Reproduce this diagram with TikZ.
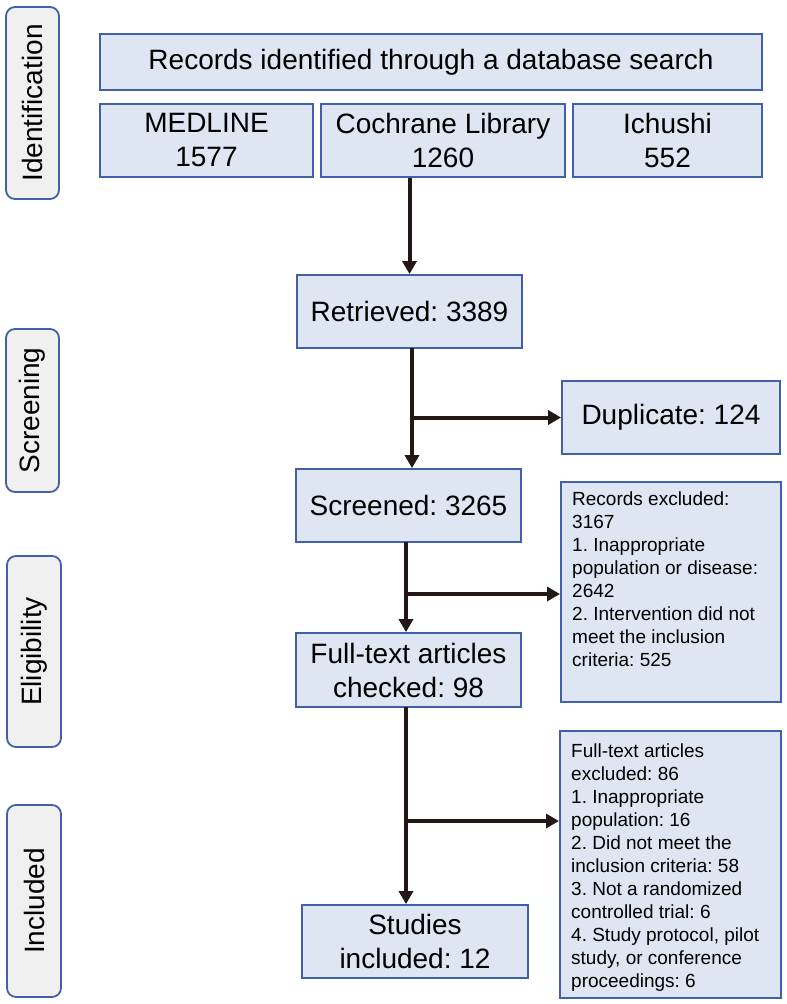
\documentclass[tikz,border=0pt]{standalone}
\usepackage{fontspec}
\setmainfont{Liberation Sans}
\usetikzlibrary{arrows.meta}
\definecolor{boxfill}{RGB}{223,230,243}
\definecolor{boxline}{RGB}{66,96,168}
\definecolor{sidefill}{RGB}{240,240,240}
\definecolor{arrowcol}{RGB}{35,24,21}
\frenchspacing
\begin{document}
\begin{tikzpicture}[x=1pt,y=-1pt,
  bigbox/.style={draw=boxline, fill=boxfill, line width=1.8pt, inner sep=0pt, align=center,
    font=\fontsize{28}{34}\selectfont},
  emptybox/.style={draw=boxline, fill=boxfill, line width=1.8pt, inner sep=0pt},
  smalltext/.style={align=left, inner sep=0pt, font=\fontsize{19}{23}\selectfont, anchor=north west},
  side/.style={draw=boxline, fill=sidefill, line width=1.8pt, rounded corners=9pt, inner sep=0pt,
    font=\fontsize{28}{34}\selectfont},
  flow/.style={draw=arrowcol, line width=4pt, -{Triangle[length=13pt,width=14pt]}}
]
\useasboundingbox (0,0) rectangle (787,1004);
% side labels
\node[side, minimum width=53pt, minimum height=192pt] (sid) at (32.5,103) {};
\node[rotate=90, font=\fontsize{28}{34}\selectfont, inner sep=0pt] (sidt) at (sid.center) {Identification};
\node[side, minimum width=53pt, minimum height=163pt] (sscr) at (32.5,410.5) {};
\node[rotate=90, font=\fontsize{28}{34}\selectfont, inner sep=0pt] (sscrt) at (sscr.center) {Screening};
\node[side, minimum width=54pt, minimum height=191pt] (selig) at (34,651.5) {};
\node[rotate=90, font=\fontsize{28}{34}\selectfont, inner sep=0pt] (seligt) at (selig.center) {Eligibility};
\node[side, minimum width=54pt, minimum height=192pt] (sinc) at (34,901) {};
\node[rotate=90, font=\fontsize{28}{34}\selectfont, inner sep=0pt] (sinct) at (sinc.center) {Included};
% identification boxes
\node[bigbox, minimum width=662pt, minimum height=56pt] (rec) at (431,62) {Records identified through a database search};
\node[bigbox, minimum width=213pt, minimum height=73pt] (med) at (206.5,140.5) {MEDLINE\\1577};
\node[bigbox, minimum width=244pt, minimum height=73pt] (coch) at (443,140.5) {Cochrane Library\\1260};
\node[bigbox, minimum width=189pt, minimum height=73pt] (ichu) at (667.5,140.5) {Ichushi\\552};
% main flow
\node[bigbox, minimum width=225pt, minimum height=73pt] (ret) at (409.5,311.5) {Retrieved: 3389};
\node[bigbox, minimum width=218pt, minimum height=73pt] (dup) at (671,417.5) {Duplicate: 124};
\node[bigbox, minimum width=225pt, minimum height=73pt] (scr) at (408.5,505.5) {Screened: 3265};
\node[bigbox, minimum width=225pt, minimum height=74pt] (full) at (408.5,670) {Full-text articles\\checked: 98};
\node[bigbox, minimum width=226pt, minimum height=73pt] (stud) at (415,941.5) {Studies\\included: 12};
% exclusion boxes
\node[emptybox, minimum width=220pt, minimum height=220pt, anchor=north west] (ex1) at (560,481) {};
\node[smalltext] (ex1t) at ([xshift=12pt,yshift=-11pt]ex1.north west) {Records excluded:\\3167\\1. Inappropriate\\population or disease:\\2642\\2. Intervention did not\\meet the inclusion\\criteria: 525};
\node[emptybox, minimum width=221pt, minimum height=267pt, anchor=north west] (ex2) at (559,730) {};
\node[smalltext] (ex2t) at ([xshift=12pt,yshift=-14pt]ex2.north west) {Full-text articles\\excluded: 86\\1. Inappropriate\\population: 16\\2. Did not meet the\\inclusion criteria: 58\\3. Not a randomized\\controlled trial: 6\\4. Study protocol, pilot\\study, or conference\\proceedings: 6};
% connectors
\draw[flow] (ret.north |- coch.south) -- (ret.north);
\coordinate (a1) at (412,348);
\draw[flow] (a1) -- (a1 |- scr.north);
\draw[flow] (a1 |- dup.west) -- (dup.west);
\coordinate (a2) at (406,542);
\draw[flow] (a2) -- (a2 |- full.north);
\coordinate (b2) at (406,594);
\draw[flow] (b2) -- (b2 -| ex1.west);
\coordinate (a3) at (406,707);
\draw[flow] (a3) -- (a3 |- stud.north);
\coordinate (b3) at (406,821);
\draw[flow] (b3) -- (b3 -| ex2.west);
\end{tikzpicture}
\end{document}
